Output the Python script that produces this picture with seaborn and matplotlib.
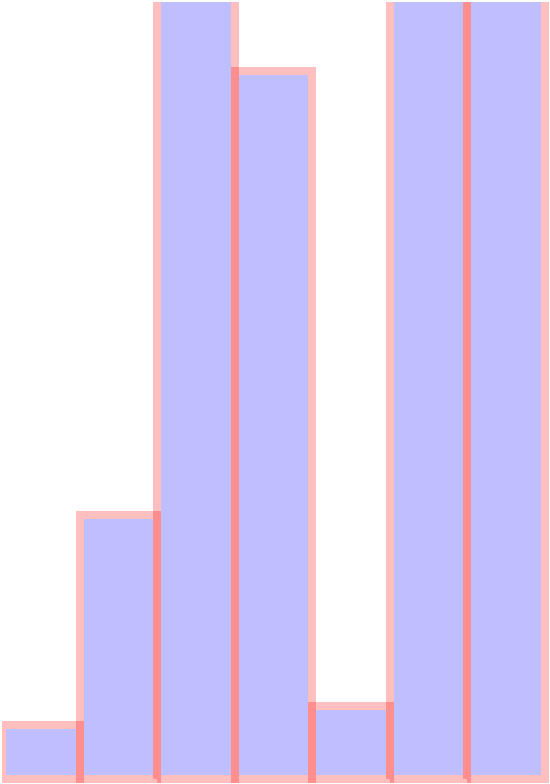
import matplotlib
matplotlib.use("Agg")
import matplotlib.pyplot as plt
import seaborn as sns

# bar heights (axis cut at 777, three bars run past the top)
bins = ["b1", "b2", "b3", "b4", "b5", "b6", "b7"]
heights = [54, 264, 820, 708.5, 73.3, 820, 820]

dpi = 100
fig = plt.figure(figsize=(5.5, 7.84), dpi=dpi)
ax = fig.add_axes([2 / 550, 0, 548 / 550, 782 / 784])

# fill layer
sns.barplot(x=bins, y=heights, color="blue", alpha=0.25, width=1,
            linewidth=0, saturation=1, ax=ax)
# edge layer
sns.barplot(x=bins, y=heights, color="red", alpha=0.25, width=1,
            fill=False, linewidth=8 * 72 / dpi, saturation=1, ax=ax)

unit_x = 543 / 7  # px per bar
ax.set_xlim(-0.5, -0.5 + 548 / unit_x)
ax.set_ylim(-5, 777)

# pull the fill in by half the stroke so the edge sits on white
half_x = 4 / unit_x
half_y = 4.0
fills = ax.patches[:len(bins)]
for p in fills:
    p.set_x(p.get_x() + half_x)
    p.set_width(p.get_width() - 2 * half_x)
    p.set_y(p.get_y() + half_y)
    p.set_height(p.get_height() - 2 * half_y)

ax.axis("off")
fig.savefig("out.png", dpi=dpi)
